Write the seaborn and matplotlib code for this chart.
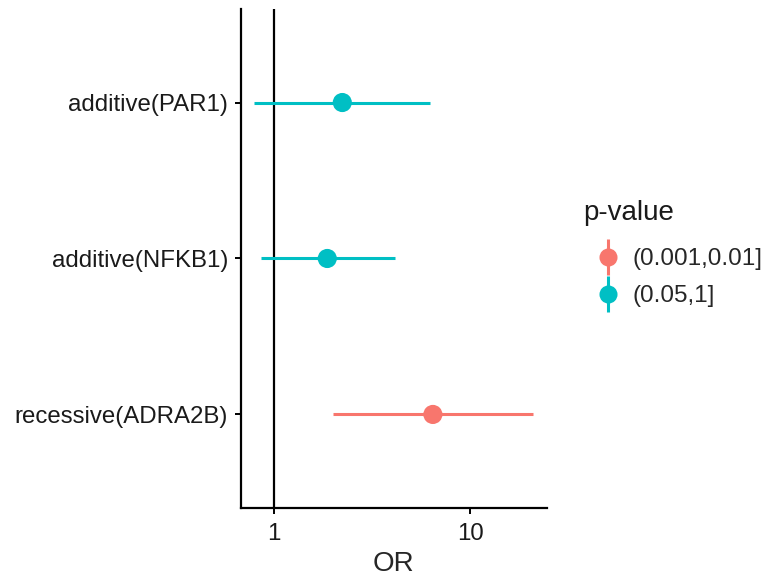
"""
Forest plot: odds ratios with confidence intervals per model term.
"""

import numpy as np
import pandas as pd
import matplotlib
matplotlib.use("Agg")
import matplotlib.pyplot as plt
from matplotlib.lines import Line2D
from matplotlib.legend_handler import HandlerTuple
import seaborn as sns

# bottom to top
TERMS = ["recessive(ADRA2B)", "additive(NFKB1)", "additive(PAR1)"]
OR = [6.44, 1.87, 2.23]
CI_LOW = [2.01, 0.859, 0.797]
CI_HIGH = [20.7, 4.12, 6.19]
PGROUP = ["(0.001,0.01]", "(0.05,1]", "(0.05,1]"]

LEVELS = ["(0.001,0.01]", "(0.05,1]"]
COLORS = ["#F8766D", "#00BFC4"]


def build_frame() -> pd.DataFrame:
    return pd.DataFrame({
        "term": TERMS,
        "OR": OR,
        "low": CI_LOW,
        "high": CI_HIGH,
        "p": PGROUP,
    })


def plot_forest(df: pd.DataFrame, output_path: str) -> None:
    sns.set_style("ticks")
    plt.rcParams["font.family"] = ["Liberation Sans", "DejaVu Sans"]

    fig = plt.figure(figsize=(7.65, 5.81), dpi=100)
    ax = fig.add_axes([0.3144, 0.1256, 0.400, 0.859])

    palette = dict(zip(LEVELS, COLORS))
    ypos = np.arange(len(df))

    ax.axvline(1, color="black", lw=1.6, zorder=1)
    ax.hlines(ypos, df["low"], df["high"],
              colors=[palette[p] for p in df["p"]], lw=2.2, zorder=2)
    sns.scatterplot(x=df["OR"], y=ypos, hue=df["p"], hue_order=LEVELS,
                    palette=palette, s=190, edgecolor="none", zorder=3,
                    legend=False, ax=ax)

    ax.set_xscale("log")
    lo = np.log10(df["low"].min())
    hi = np.log10(df["high"].max())
    pad = 0.05 * (hi - lo)
    ax.set_xlim(10 ** (lo - pad), 10 ** (hi + pad))
    ax.set_xticks([1, 10])
    ax.set_xticklabels(["1", "10"])
    ax.xaxis.set_minor_locator(matplotlib.ticker.NullLocator())
    ax.set_ylim(-0.6, len(df) - 0.4)
    ax.set_yticks(ypos)
    ax.set_yticklabels(df["term"])

    ax.set_xlabel("OR", fontsize=20, labelpad=4)
    ax.set_ylabel("")
    ax.tick_params(axis="both", labelsize=17.3, length=4, width=1.4,
                   color="black", labelcolor="#1a1a1a")
    ax.tick_params(axis="x", pad=7)
    ax.tick_params(axis="y", pad=5)
    for side in ["left", "bottom"]:
        ax.spines[side].set_linewidth(1.6)
        ax.spines[side].set_color("black")
    sns.despine(ax=ax)

    handles = []
    for c in COLORS:
        bar = Line2D([], [], marker="|", markersize=26, markeredgewidth=2.2,
                     color=c, linestyle="none")
        dot = Line2D([], [], marker="o", markersize=13, color=c,
                     markeredgecolor="none", linestyle="none")
        handles.append((bar, dot))
    fig.legend(handles, LEVELS, loc="center left",
               bbox_to_anchor=(0.744, 0.522), frameon=False, fontsize=17.5,
               handler_map={tuple: HandlerTuple(ndivide=1, pad=0)},
               handlelength=1.4, handletextpad=0.3, labelspacing=0.6)
    fig.text(0.762, 1 - 213 / 581, "p-value", fontsize=20, color="#1a1a1a",
             ha="left", va="center")

    fig.savefig(output_path, dpi=100)
    plt.close(fig)


def main():
    df = build_frame()
    plot_forest(df, "out.png")


if __name__ == "__main__":
    main()
